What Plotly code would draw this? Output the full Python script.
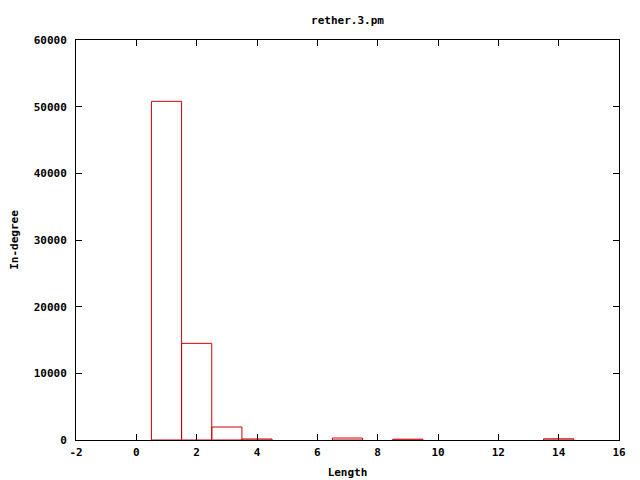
import plotly.graph_objects as go

lengths = [1, 2, 3, 4, 7, 9, 14]
in_degree = [50800, 14500, 1950, 150, 300, 120, 180]

x_ticks = [-2, 0, 2, 4, 6, 8, 10, 12, 14, 16]
y_ticks = [0, 10000, 20000, 30000, 40000, 50000, 60000]

font = dict(family="DejaVu Sans Mono", size=11, color="black", weight="bold")

fig = go.Figure()
fig.add_trace(go.Bar(
    x=lengths, y=in_degree, width=1,
    marker=dict(color="rgba(0,0,0,0)", line=dict(color="#d00000", width=1)),
))

# the page body adds an 8px offset; margins compensate for it
fig.update_layout(
    width=640, height=480,
    margin=dict(l=68, r=29, t=32, b=48, autoexpand=False),
    paper_bgcolor="white", plot_bgcolor="white",
    showlegend=False,
    font=font,
    title=dict(text="rether.3.pm", x=0.5, xref="paper", xanchor="center",
               y=1 - 12/480, yref="container", yanchor="middle", font=font),
)
fig.update_xaxes(
    range=[-2, 16], tickvals=x_ticks, ticktext=[str(v) for v in x_ticks],
    ticks="inside", ticklen=6, tickcolor="black", mirror="ticks",
    showline=True, linecolor="black", linewidth=1, showgrid=False, zeroline=False,
    automargin=False, ticklabelstandoff=2,
    title=dict(text="Length", font=font, standoff=10),
    tickfont=font,
)
fig.update_yaxes(
    range=[0, 60000], tickvals=y_ticks, ticktext=[str(v) for v in y_ticks],
    ticks="inside", ticklen=6, tickcolor="black", mirror="ticks",
    showline=True, linecolor="black", linewidth=1, showgrid=False, zeroline=False,
    automargin=False, ticklabelstandoff=6,
    title=dict(text="In-degree", font=font, standoff=14),
    tickfont=font,
)

fig.write_html("out.html")
